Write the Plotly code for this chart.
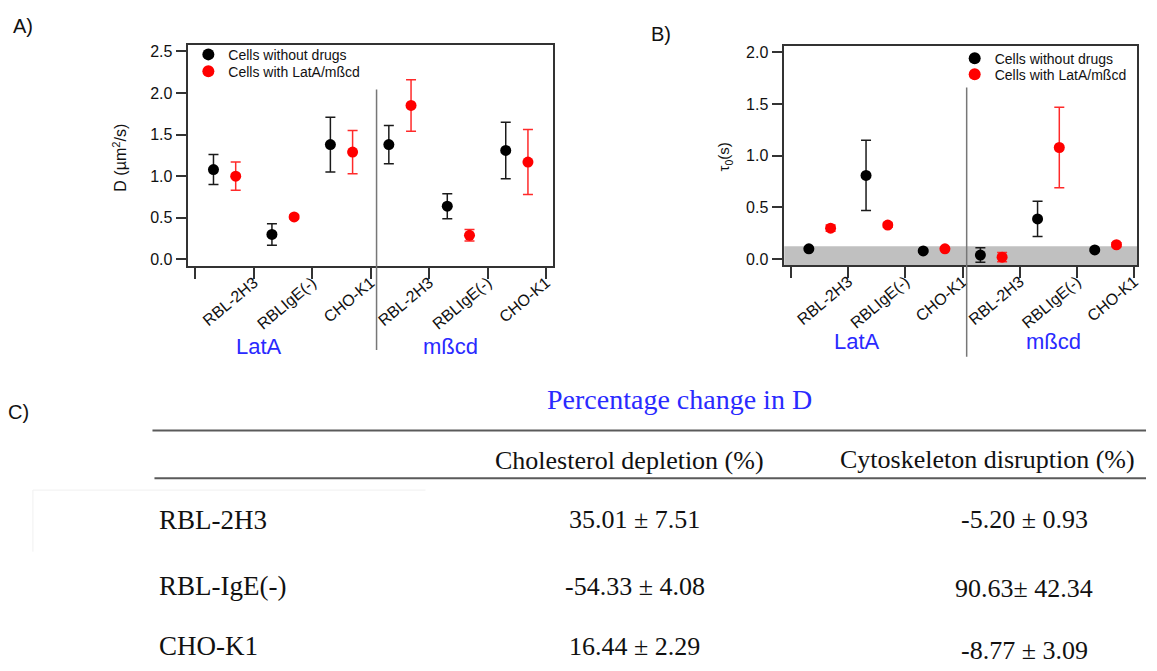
import plotly.graph_objects as go

# ---------------- data ----------------
categories = ["RBL-2H3", "RBLIgE(-)", "CHO-K1"]
groups = ["LatA", "mßcd"]
series_names = ["Cells without drugs", "Cells with LatA/mßcd"]

# Panel A: diffusion coefficient D (µm²/s), order: LatA x3, mßcd x3
D_ctrl = [1.08, 0.30, 1.38, 1.38, 0.64, 1.31]
D_ctrl_err = [0.18, 0.13, 0.33, 0.23, 0.15, 0.34]
D_drug = [1.00, 0.51, 1.29, 1.85, 0.29, 1.17]
D_drug_err = [0.17, 0.02, 0.26, 0.31, 0.07, 0.39]

# Panel B: tau0 (s)
tau_ctrl = [0.10, 0.81, 0.08, 0.04, 0.39, 0.09]
tau_ctrl_err = [0.01, 0.34, 0.01, 0.07, 0.17, 0.01]
tau_drug = [0.30, 0.33, 0.10, 0.02, 1.08, 0.14]
tau_drug_err = [0.03, 0.02, 0.01, 0.045, 0.39, 0.02]

# Panel C: table
table_title = "Percentage change in D"
table_cols = ["Cholesterol depletion (%)", "Cytoskeleton disruption (%)"]
table_rows = ["RBL-2H3", "RBL-IgE(-)", "CHO-K1"]
chol_col = ["35.01 ± 7.51", "-54.33 ± 4.08", "16.44 ± 2.29"]
cyto_col = ["-5.20 ± 0.93", "90.63± 42.34", "-8.77 ± 3.09"]

# ---------------- style ----------------
W, H = 1157, 671
SANS = "Liberation Sans, Arial, sans-serif"
SERIF = "Liberation Serif, Times New Roman, serif"
BLUE = "#2a2aff"
BLACK = "#000000"
RED = "#ff0000"
OFF_CTRL, OFF_DRUG = 0.31, 0.69


def px(x):
    return x / W


def py(y):
    return 1 - y / H


n = len(D_ctrl)
idx = list(range(n))
x_ctrl = [i + OFF_CTRL for i in idx]
x_drug = [i + OFF_DRUG for i in idx]

fig = go.Figure()


def add_pair(xa, ya, yctrl, ectrl, ydrug, edrug, leg_a, leg_b):
    fig.add_trace(go.Scatter(
        x=x_ctrl, y=yctrl, mode="markers", name=series_names[0],
        xaxis=xa, yaxis=ya, legend=leg_a,
        marker=dict(color=BLACK, size=11),
        error_y=dict(type="data", array=ectrl, color="#1a1a1a", thickness=1.5, width=5),
    ))
    fig.add_trace(go.Scatter(
        x=x_drug, y=ydrug, mode="markers", name=series_names[1],
        xaxis=xa, yaxis=ya, legend=leg_b,
        marker=dict(color=RED, size=11),
        error_y=dict(type="data", array=edrug, color="#ff2a2a", thickness=1.5, width=5),
    ))


add_pair("x", "y", D_ctrl, D_ctrl_err, D_drug, D_drug_err, "legend", "legend3")
add_pair("x2", "y2", tau_ctrl, tau_ctrl_err, tau_drug, tau_drug_err, "legend2", "legend4")

tickvals = [i + 1 for i in idx]
ticktext = categories * len(groups)

axis_common = dict(
    showline=True, linecolor="#333333", linewidth=1.5, mirror=True,
    ticks="outside", ticklen=11, tickwidth=1.5, tickcolor="#333333",
    showgrid=False, zeroline=False,
    tickfont=dict(family=SANS, size=16, color="#111111"),
)
xminor = dict(tickvals=[0], ticks="outside", ticklen=11, tickwidth=1.5, tickcolor="#333333",
              showgrid=False)

fig.update_layout(
    width=W, height=H,
    margin=dict(l=0, r=0, t=0, b=0),
    paper_bgcolor="white", plot_bgcolor="white",
    xaxis=dict(domain=[px(189), px(555)], range=[-0.12, 6.12], anchor="y",
               tickvals=tickvals, ticktext=ticktext, tickangle=-40,
               ticklabelstandoff=-12, minor=xminor, **axis_common),
    yaxis=dict(domain=[py(266), py(43)], range=[-0.084, 2.58], anchor="x",
               tickvals=[0, 0.5, 1.0, 1.5, 2.0, 2.5], tickformat=".1f", **axis_common),
    xaxis2=dict(domain=[px(787), px(1141)], range=[-0.12, 6.05], anchor="y2",
                tickvals=tickvals, ticktext=ticktext, tickangle=-40,
                ticklabelstandoff=-12, minor=xminor, **axis_common),
    yaxis2=dict(domain=[py(265), py(44)], range=[-0.06, 2.064], anchor="x2",
                tickvals=[0, 0.5, 1.0, 1.5, 2.0], tickformat=".1f", **axis_common),
    showlegend=True,
)

legend_style = dict(xanchor="left", yanchor="top", bgcolor="rgba(0,0,0,0)",
                    font=dict(family=SANS, size=14, color="#111"), itemsizing="constant")
fig.update_layout(
    legend=dict(x=px(189), y=py(37), **legend_style),
    legend3=dict(x=px(189), y=py(54), **legend_style),
    legend2=dict(x=px(958), y=py(41), **legend_style),
    legend4=dict(x=px(958), y=py(57), **legend_style),
)

shapes = []
# gray detection-limit band in panel B
shapes.append(dict(type="rect", xref="x2 domain", yref="y2", x0=0, x1=1, y0=-0.06, y1=0.125,
                   fillcolor="#c0c0c0", line=dict(width=0), layer="below"))
# dividers between LatA and mßcd groups
shapes.append(dict(type="line", xref="x", yref="paper", x0=3.1, x1=3.1, y0=py(350), y1=py(88),
                   line=dict(color="#777777", width=1.5)))
shapes.append(dict(type="line", xref="x2", yref="paper", x0=3.07, x1=3.07, y0=py(357), y1=py(86),
                   line=dict(color="#777777", width=1.5)))
# table rules
shapes.append(dict(type="line", xref="paper", yref="paper", x0=px(153), x1=px(1150),
                   y0=py(431), y1=py(431), line=dict(color="#5a5a5a", width=2)))
shapes.append(dict(type="line", xref="paper", yref="paper", x0=px(155), x1=px(1150),
                   y0=py(479), y1=py(479), line=dict(color="#5a5a5a", width=2)))
# faint box in table
shapes.append(dict(type="line", xref="paper", yref="paper", x0=px(33), x1=px(427),
                   y0=py(491), y1=py(491), line=dict(color="#f0f0f0", width=1)))
shapes.append(dict(type="line", xref="paper", yref="paper", x0=px(33), x1=px(33),
                   y0=py(491), y1=py(553), line=dict(color="#f0f0f0", width=1)))
fig.update_layout(shapes=shapes)

ann = []


def text(x, y, s, size, family=SANS, color="#111111", xanchor="center", angle=0):
    ann.append(dict(x=px(x), y=py(y), xref="paper", yref="paper", text=s, showarrow=False,
                    xanchor=xanchor, yanchor="middle", textangle=angle,
                    font=dict(family=family, size=size, color=color)))


# panel letters
text(11, 24, "A)", 20, xanchor="left")
text(651, 32, "B)", 20, xanchor="left")
text(6, 412, "C)", 20, xanchor="left")

# axis titles
text(120, 157, "D (µm<sup>2</sup>/s)", 16, angle=-90)
text(727, 156, "τ<sub>0</sub>(s)", 15, angle=-90)

# group labels
text(260, 347, groups[0], 22, color=BLUE)
text(452, 347, groups[1], 22, color=BLUE)
text(860, 342, groups[0], 22, color=BLUE)
text(1057, 342, groups[1], 22, color=BLUE)

# table
text(682, 400, table_title, 28, family=SERIF, color=BLUE)
text(632, 461, table_cols[0], 26, family=SERIF)
text(991, 460, table_cols[1], 26, family=SERIF)
row_y = [521, 588, 648]
col2_y = [521, 590, 652]
for r, lab in enumerate(table_rows):
    text(158, row_y[r], lab, 27, family=SERIF, xanchor="left")
    text(637, row_y[r], chol_col[r], 26, family=SERIF)
    text(1028, col2_y[r], cyto_col[r], 26, family=SERIF)

fig.update_layout(annotations=ann)

fig.write_html("out.html", config={"displayModeBar": False},
               post_script="document.body.style.margin='0px';")
